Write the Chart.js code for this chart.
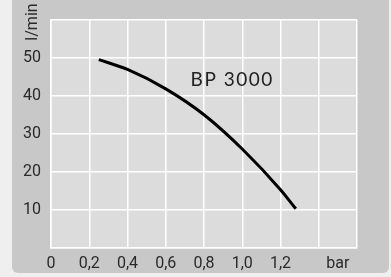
<!DOCTYPE html>
<html>
<head>
<meta charset="utf-8">
<script src="https://cdn.jsdelivr.net/npm/chart.js@4"></script>
<style>
  body { margin: 0; background: #eeefee; }
  #panel { position: absolute; left: 12px; top: -8px; width: 377px; height: 281px; background: #c8c8c9; border-radius: 6px; }
  #mycanvas { position: absolute; left: 0; top: 0; }
</style>
</head>
<body>
<div id="panel"></div>
<canvas id="mycanvas" width="391" height="277"></canvas>
<script>
// pump curve, pressure in bar vs flow in l/min
var Pressure = [0.25, 0.4, 0.6, 0.8, 1.0, 1.2, 1.28];
var Flow = [49.5, 46.9, 41.8, 35.0, 26.0, 15.3, 10.3];
var xTickValues = [0, 0.2, 0.4, 0.6, 0.8, 1.0, 1.2, 1.4, 1.5, 1.6];
var xTickLabels = ['0', '0,2', '0,4', '0,6', '0,8', '1,0', '1,2', '', 'bar', ''];
var yTickValues = [0, 10, 20, 30, 40, 50, 60];
var yTickLabels = ['', '10', '20', '30', '40', '50', ''];
var seriesName = 'BP 3000';
var yUnit = 'l/min';

var tickFont = { family: 'Roboto, "Liberation Sans", sans-serif', size: 16 };

var points = [];
for (var i in Pressure) {
	points.push({ x: Pressure[i], y: Flow[i] });
}

var extras = {
	id: 'extras',
	beforeDraw: function(chart) {
		var c = chart.ctx, a = chart.chartArea;
		c.save();
		c.fillStyle = '#dcdcdd';
		c.fillRect(a.left, a.top, a.right - a.left, a.bottom - a.top);
		c.restore();
	},
	afterDraw: function(chart) {
		var c = chart.ctx;
		var sx = chart.scales.x, sy = chart.scales.y;
		c.save();
		c.fillStyle = '#222';
		c.font = '19px Lato, "Open Sans", sans-serif';
		c.letterSpacing = '1.5px';
		c.textAlign = 'left';
		c.textBaseline = 'alphabetic';
		c.fillText(seriesName, sx.getPixelForValue(0.73), sy.getPixelForValue(42.5));
		c.letterSpacing = '0px';
		c.fillStyle = '#2a2a2a';
		c.font = '16px Roboto, "Liberation Sans", sans-serif';
		c.translate(33, 22);
		c.rotate(-Math.PI / 2);
		c.textAlign = 'center';
		c.textBaseline = 'middle';
		c.fillText(yUnit, 0, 0);
		c.restore();
	}
};

var ctx = document.getElementById('mycanvas');
var LineGraph = new Chart(ctx, {
	type: 'scatter',
	data: {
		datasets: [{
			label: seriesName,
			data: points,
			showLine: true,
			borderColor: '#000',
			borderWidth: 3,
			pointRadius: 0,
			cubicInterpolationMode: 'monotone',
			fill: false
		}]
	},
	options: {
		responsive: false,
		animation: false,
		layout: { padding: { top: 17, right: 34, bottom: 0, left: 0 } },
		plugins: { legend: { display: false }, tooltip: { enabled: false } },
		scales: {
			x: {
				type: 'linear', min: 0, max: 1.6,
				afterBuildTicks: function(scale) {
					scale.ticks = xTickValues.map(function(v) { return { value: v }; });
				},
				afterFit: function(scale) { scale.height = 29; },
				grid: {
					color: function(c) { return c.tick && c.tick.value === 1.5 ? 'rgba(0,0,0,0)' : '#ffffff'; },
					lineWidth: 1.5,
					drawTicks: false
				},
				border: { color: '#ffffff', width: 1.5 },
				ticks: {
					autoSkip: false, maxRotation: 0, padding: 6,
					color: '#2a2a2a', font: tickFont,
					callback: function(v, idx) { return xTickLabels[idx]; }
				}
			},
			y: {
				type: 'linear', min: 0, max: 60,
				afterBuildTicks: function(scale) {
					scale.ticks = yTickValues.map(function(v) { return { value: v }; });
				},
				afterFit: function(scale) { scale.width = 51; },
				grid: { color: '#ffffff', lineWidth: 1.5, drawTicks: false },
				border: { color: '#ffffff', width: 1.5 },
				ticks: {
					autoSkip: false, padding: 10,
					color: '#2a2a2a', font: tickFont,
					callback: function(v, idx) { return yTickLabels[idx]; }
				}
			}
		}
	},
	plugins: [extras]
});
</script>
</body>
</html>
